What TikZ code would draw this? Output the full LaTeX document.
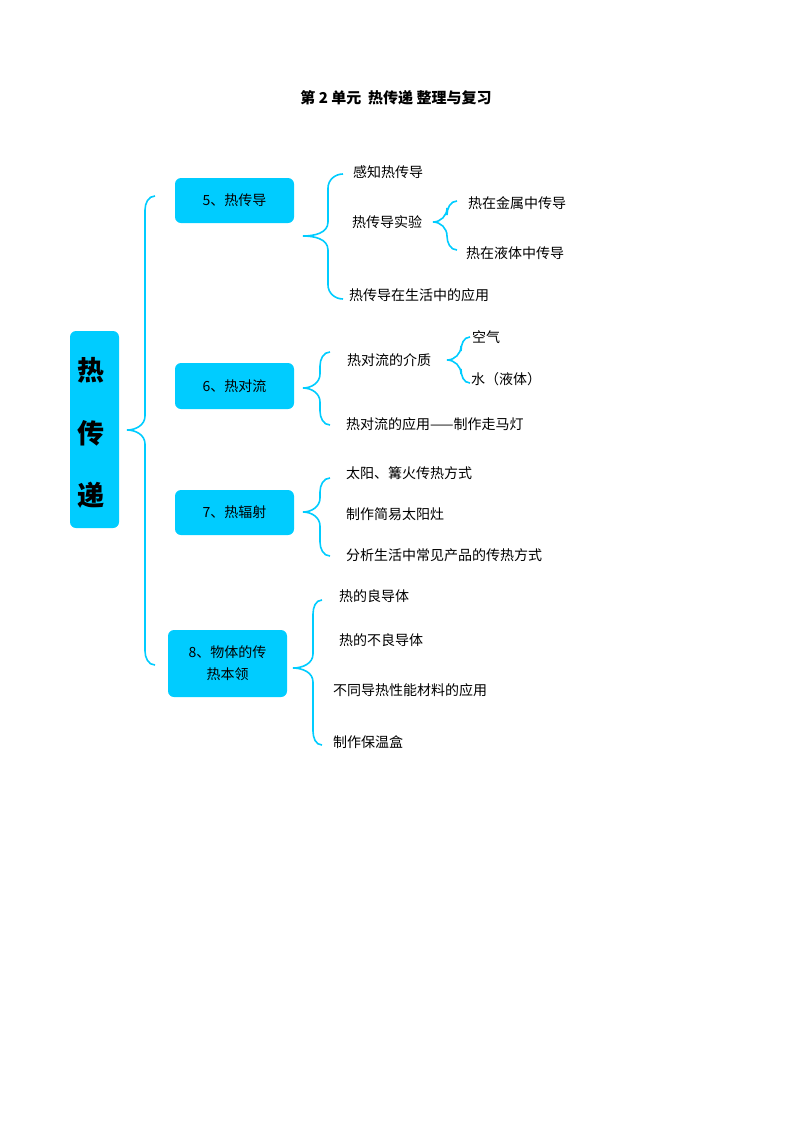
\documentclass[tikz,border=0pt]{standalone}
\usepackage{fontspec}
\setmainfont{Noto Sans CJK SC}
\newfontfamily\cjkb{Noto Sans CJK SC Bold}
\definecolor{cy}{HTML}{00CCFF}
\newcommand\mybrace[6]{% tipx, vx, endx, topy, midy, boty
  \draw[br] (#3,#4) to[out=180,in=90] (#2,#4+14) -- (#2,#5-14) to[out=-90,in=0] (#1,#5)
            to[out=0,in=90] (#2,#5+14) -- (#2,#6-14) to[out=-90,in=180] (#3,#6);}
\begin{document}
\begin{tikzpicture}[x=1pt,y=-1pt,
  br/.style={draw=cy,line width=1.6pt},
  box/.style={fill=cy,rounded corners=6pt,inner sep=0pt},
  lbl/.style={anchor=west,inner sep=0pt,font=\fontsize{14}{16}\selectfont}]
\useasboundingbox (0,0) rectangle (793,1122);
\node[font=\bfseries\fontsize{15}{17}\selectfont] (title) at (396,98) {第 2 单元\ \ 热传递 整理与复习};
\node[box,minimum width=49pt,minimum height=197pt] (main) at (94.5,429.5) {};
\node[font=\bfseries\fontsize{27}{30}\selectfont] (m1) at (91,370) {热};
\node[font=\bfseries\fontsize{27}{30}\selectfont] (m2) at (91,433) {传};
\node[font=\bfseries\fontsize{27}{30}\selectfont] (m3) at (91,495) {递};
\node[box,minimum width=119pt,minimum height=45pt,font=\fontsize{14}{16}\selectfont] (b5) at (234.5,200.5) {5、热传导};
\node[box,minimum width=119pt,minimum height=46pt,font=\fontsize{14}{16}\selectfont] (b6) at (234.5,386) {6、热对流};
\node[box,minimum width=119pt,minimum height=45pt,font=\fontsize{14}{16}\selectfont] (b7) at (234.5,512.5) {7、热辐射};
\node[box,minimum width=119pt,minimum height=67pt,font=\fontsize{14}{16}\selectfont,align=center] (b8) at (227.5,663.5) {8、物体的传\\[6pt]热本领};
\mybrace{127}{145}{155}{196}{430}{665}
\mybrace{303}{328}{343}{174}{236}{299}
\mybrace{433}{447}{457}{201}{222}{250}
\mybrace{303}{320}{330}{352}{388}{425}
\mybrace{447}{461}{470}{337}{360}{383}
\mybrace{303}{320}{330}{478}{512}{556}
\mybrace{293}{313}{322}{600}{668}{745}
\node[lbl] (t1) at (353,172) {感知热传导};
\node[lbl] (t2) at (352,222) {热传导实验};
\node[lbl] (t3) at (468,203) {热在金属中传导};
\node[lbl] (t4) at (466,253) {热在液体中传导};
\node[lbl] (t5) at (349,295) {热传导在生活中的应用};
\node[lbl] (t6) at (347,360) {热对流的介质};
\node[lbl] (t7) at (472,337) {空气};
\node[lbl] (t8) at (471,379) {水（液体）};
\node[lbl] (t9) at (346,424) {热对流的应用——制作走马灯};
\node[lbl] (t10) at (346,473) {太阳、篝火传热方式};
\node[lbl] (t11) at (346,514) {制作简易太阳灶};
\node[lbl] (t12) at (346,555) {分析生活中常见产品的传热方式};
\node[lbl] (t13) at (339,596) {热的良导体};
\node[lbl] (t14) at (339,640) {热的不良导体};
\node[lbl] (t15) at (333,690) {不同导热性能材料的应用};
\node[lbl] (t16) at (333,742) {制作保温盒};
\end{tikzpicture}
\end{document}
